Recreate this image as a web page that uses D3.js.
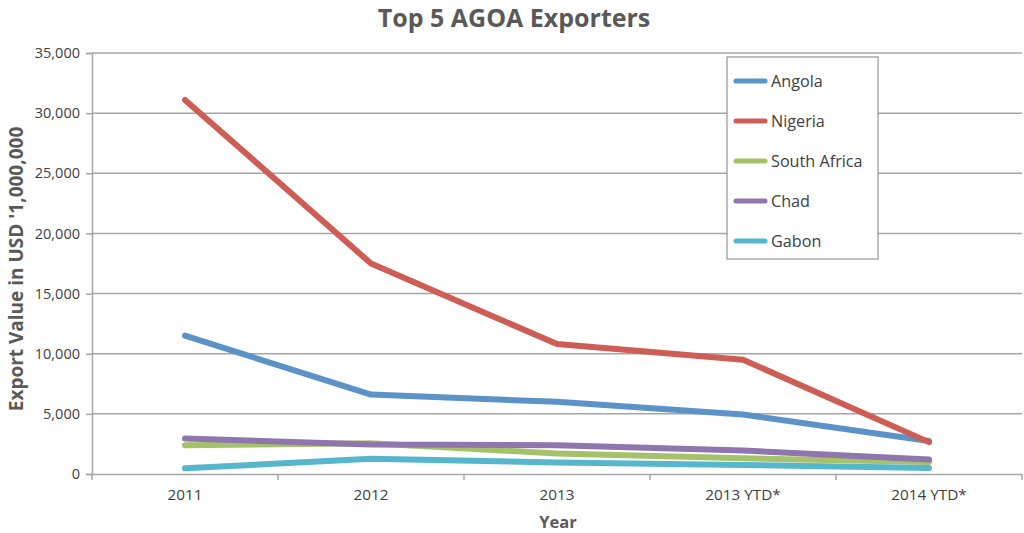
<!DOCTYPE html>
<html><head><meta charset="utf-8">
<script src="https://cdn.jsdelivr.net/npm/d3@7"></script>
<style>body{margin:0;background:#fff;} text{font-family:"Open Sans",sans-serif;}</style>
</head><body><svg id="c" width="1024" height="533"></svg>
<script>
const categories = ["2011","2012","2013","2013 YTD*","2014 YTD*"];
const seriesNames = ["Angola","Nigeria","South Africa","Chad","Gabon"];
const angola = [11500, 6600, 6000, 4950, 2750];
const nigeria = [31100, 17500, 10800, 9500, 2650];
const southAfrica = [2400, 2550, 1700, 1300, 1000];
const chad = [2950, 2450, 2400, 1950, 1200];
const gabon = [470, 1270, 950, 750, 500];
const yTicks = [0,5000,10000,15000,20000,25000,30000,35000];
const colors = ["#5b93c8","#cd5d55","#a5c26a","#8f76ad","#56b7cc"];
const series = [angola, nigeria, southAfrica, chad, gabon];

const svg = d3.select("#c");
const L=92, R=1022, T=53, B=474;
const x = d3.scaleBand().domain(categories).range([L,R]).padding(0);
const y = d3.scaleLinear().domain([0,35000]).range([B,T]);

// gridlines
svg.append("g").selectAll("line").data(yTicks.filter(d=>d>0)).join("line")
  .attr("x1",L).attr("x2",R).attr("y1",d=>y(d)).attr("y2",d=>y(d))
  .attr("stroke","#a6a6a6").attr("stroke-width",1.5);

// y axis
const ya = svg.append("g").attr("transform",`translate(${L},0)`)
  .call(d3.axisLeft(y).tickValues(yTicks).tickSize(6).tickPadding(6).tickFormat(d3.format(",")));
ya.select(".domain").attr("stroke","#a6a6a6").attr("stroke-width",1.5);
ya.selectAll(".tick line").attr("stroke","#a6a6a6").attr("stroke-width",1.5);
ya.selectAll("text").attr("font-size",14.5).attr("fill","#404040").style("font-family","Open Sans");

// x axis
const xa = svg.append("g").attr("transform",`translate(0,${B})`)
  .call(d3.axisBottom(x).tickSize(0).tickPadding(15));
xa.select(".domain").attr("stroke","#a6a6a6").attr("stroke-width",1.5);
xa.selectAll("text").attr("font-size",15.3).attr("fill","#404040").style("font-family","Open Sans");
// boundary ticks
xa.append("g").selectAll("line").data(d3.range(categories.length+1)).join("line")
  .attr("x1",i=>L+i*x.step()).attr("x2",i=>L+i*x.step()).attr("y1",0).attr("y2",6)
  .attr("stroke","#a6a6a6").attr("stroke-width",1.5);

// lines
const line = d3.line().x((d,i)=>x(categories[i])+x.bandwidth()/2).y(d=>y(d));
series.forEach((s,k)=>{
  svg.append("path").datum(s).attr("d",line).attr("fill","none")
    .attr("stroke",colors[k]).attr("stroke-width",6).attr("stroke-linecap","round").attr("stroke-linejoin","round");
});

// title
svg.append("text").attr("x",514).attr("y",27).attr("text-anchor","middle")
  .attr("font-size",25).attr("font-weight","bold").attr("fill","#595959").text("Top 5 AGOA Exporters");
// axis titles
svg.append("text").attr("x",558).attr("y",528).attr("text-anchor","middle")
  .attr("font-size",16.5).attr("font-weight","bold").attr("fill","#595959").text("Year");
svg.append("text").attr("transform","translate(23,269) rotate(-90)").attr("text-anchor","middle")
  .attr("font-size",19).attr("font-weight","bold").attr("fill","#595959").text("Export Value in USD '1,000,000");

// legend
const lg = svg.append("g");
lg.append("rect").attr("x",727).attr("y",57).attr("width",151).attr("height",202)
  .attr("fill","#fff").attr("stroke","#808080").attr("stroke-width",1);
seriesNames.forEach((n,k)=>{
  const yy = 81 + k*40;
  lg.append("line").attr("x1",736).attr("x2",765).attr("y1",yy).attr("y2",yy)
    .attr("stroke",colors[k]).attr("stroke-width",5).attr("stroke-linecap","round");
  lg.append("text").attr("x",771).attr("y",yy+6).attr("font-size",16.2).attr("fill","#404040").text(n);
});
</script></body></html>
